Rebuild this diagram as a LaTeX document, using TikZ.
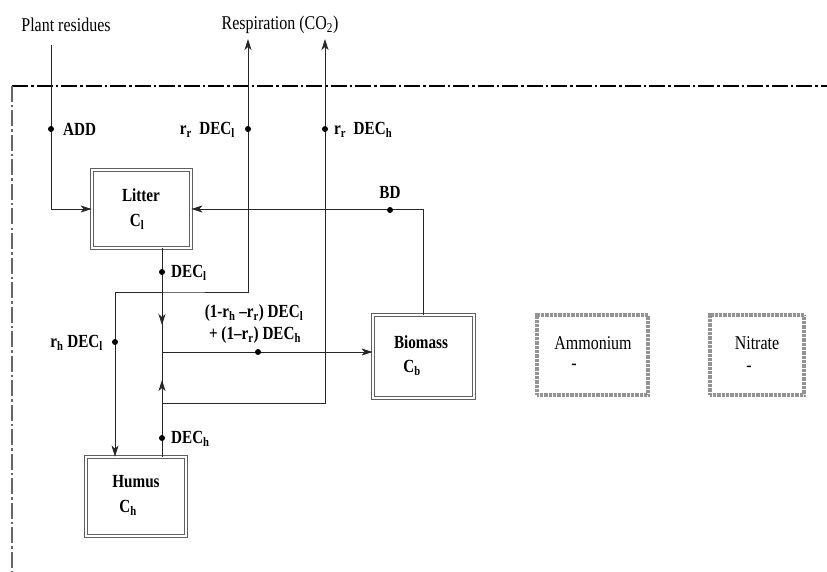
\documentclass[tikz,border=0pt]{standalone}
\usepackage{fontspec}
\setmainfont{Liberation Serif}[FakeStretch=0.82]
\usetikzlibrary{arrows.meta,calc}
\tikzset{
  flow/.style={line width=0.8pt, draw=black!85},
  tip/.style={-{Stealth[length=11pt,width=7pt,inset=3pt]}},
  dotmark/.style={circle, fill=black, inner sep=0pt, minimum size=6pt},
  pool/.style={draw=gray!75!black, line width=0.8pt, double=white, double distance=2.2pt, inner sep=0pt},
  npool/.style={draw=gray!85, line width=3.5pt, dash pattern=on 0.7pt off 0.6pt, inner sep=0pt},
  lab/.style={font=\fontsize{18.5}{20}\selectfont\bfseries, inner sep=1pt},
  txt/.style={font=\fontsize{19.5}{21}\selectfont, inner sep=1pt},
  dashdot/.style={line width=1.2pt, dash pattern=on 16pt off 3pt on 2.5pt off 3pt}
}
\begin{document}
\begin{tikzpicture}[x=1pt,y=-1pt]
\useasboundingbox (0,0) rectangle (827,572);
% system boundary
\draw[dashdot, black] (12,86) -- (827,86);
\draw[dashdot, gray!80!black] (12,86) -- (12,572);

% pools
\node[pool, minimum width=99pt, minimum height=78pt] (litter) at (141.5,209) {};
\node[pool, minimum width=101pt, minimum height=83pt] (biomass) at (423.5,356.5) {};
\node[pool, minimum width=100pt, minimum height=79pt] (humus) at (136,496.5) {};
\node[npool, minimum width=111pt, minimum height=80pt] (ammon) at (592.5,355) {};
\node[npool, minimum width=94pt, minimum height=80pt] (nitr) at (757,355) {};

% pool texts
\node[lab] (litterT) at (141,195) {Litter};
\node[lab] (litterC) at (137,222) {C\textsubscript{l}};
\node[lab] (bioT) at (421,342) {Biomass};
\node[lab] (bioC) at (412,368) {C\textsubscript{b}};
\node[lab] (humT) at (136,482) {Humus};
\node[lab] (humC) at (128,508) {C\textsubscript{h}};
\node[txt] (ammT) at (593,343) {Ammonium};
\node[txt] (ammD) at (574,367) {-};
\node[txt] (nitT) at (757,343) {Nitrate};
\node[txt] (nitD) at (749,369) {-};

% top texts
\node[txt] (plant) at (66,25) {Plant residues};
\node[txt] (resp) at (280,25) {Respiration (CO\textsubscript{2})};

% coordinates
\coordinate (p1) at (51,45);
\coordinate (t1) at (248,39);
\coordinate (t2) at (325,39);
\coordinate (J) at (162,352);
\coordinate (g1) at (162,292);
\coordinate (k1) at (115,292);
\coordinate (h1) at (162,403);
\coordinate (am1) at (162,325);
\coordinate (am2) at (162,380);

% connectors
\draw[flow, tip] (p1) |- (litter.west);
\draw[flow, tip] (biomass.north) |- (litter.east);
\draw[flow] (J |- litter.south) -- (J);
\draw[flow, tip] (J |- litter.south) -- (am1);
\draw[flow] (J |- humus.north) -- (J);
\draw[flow, tip] (J |- humus.north) -- (am2);
\draw[flow, tip] (J) -- (J -| biomass.west);
\draw[flow, tip] (k1) -- (g1) -| (t1);
\draw[flow, tip] (g1) -| (k1 |- humus.north);
\draw[flow, tip] (h1) -| (t2);

% dots
\node[dotmark] (dADD) at (51,129) {};
\node[dotmark] (dRL) at (248,129) {};
\node[dotmark] (dRH) at (325,129) {};
\node[dotmark] (dBD) at (390,210) {};
\node[dotmark] (dDL) at (162,272) {};
\node[dotmark] (dHL) at (115,342) {};
\node[dotmark] (dEQ) at (258,352) {};
\node[dotmark] (dDH) at (162,438) {};

% labels
\node[lab, anchor=west] (lADD) at (62,129) {ADD};
\node[lab, anchor=east] (lRL) at (236,130) {r\textsubscript{r}\ \ DEC\textsubscript{l}};
\node[lab, anchor=west] (lRH) at (333,130) {r\textsubscript{r}\ \ DEC\textsubscript{h}};
\node[lab] (lBD) at (390,192) {BD};
\node[lab, anchor=west] (lDL) at (170,273) {DEC\textsubscript{l}};
\node[lab, anchor=east] (lHL) at (104,343) {r\textsubscript{h}\ DEC\textsubscript{l}};
\node[lab] (lEQ1) at (254,313) {(1-r\textsubscript{h} --r\textsubscript{r}) DEC\textsubscript{l}};
\node[lab] (lEQ2) at (255,335) {+ (1--r\textsubscript{r}) DEC\textsubscript{h}};
\node[lab, anchor=west] (lDH) at (170,439) {DEC\textsubscript{h}};
\end{tikzpicture}
\end{document}
